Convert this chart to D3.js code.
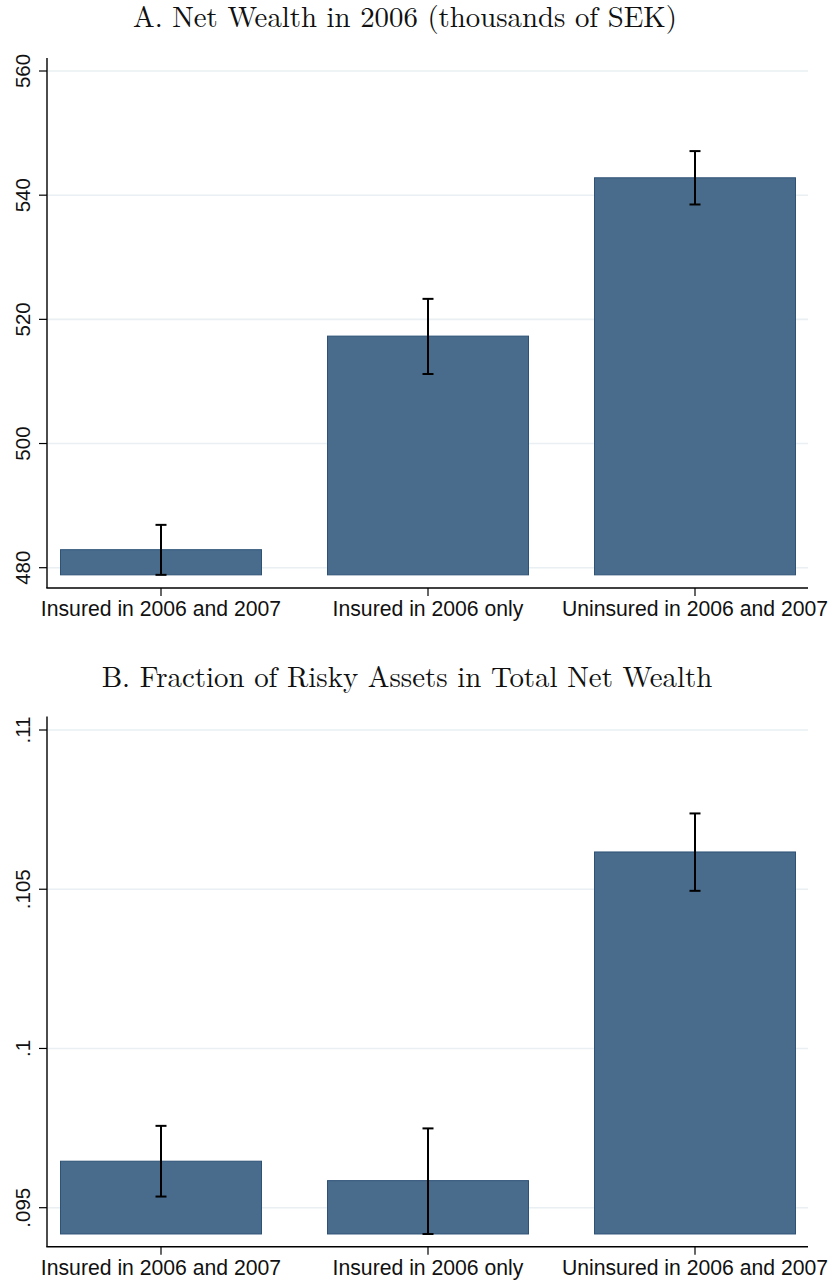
<!DOCTYPE html>
<html><head><meta charset="utf-8">
<script src="https://cdn.jsdelivr.net/npm/d3@7"></script>
<style>body{margin:0;background:#fff}svg{display:block}</style>
</head><body>
<svg id="c" width="833" height="1281"></svg>
<script>
const categories = ["Insured in 2006 and 2007", "Insured in 2006 only", "Uninsured in 2006 and 2007"];
// Panel A: Net wealth (thousands SEK)
const wealthMean = [482.9, 517.3, 542.8];
const wealthLo = [478.85, 511.2, 538.5];
const wealthHi = [486.9, 523.3, 547.1];
const wealthTicks = [480, 500, 520, 540, 560];
const wealthTickLabels = ["480", "500", "520", "540", "560"];
// Panel B: fraction of risky assets
const riskyMean = [0.09646, 0.09585, 0.10617];
const riskyLo = [0.09535, 0.094175, 0.10495];
const riskyHi = [0.09757, 0.09749, 0.10738];
const riskyTicks = [0.095, 0.1, 0.105, 0.11];
const riskyTickLabels = [".095", ".1", ".105", ".11"];
const titles = ["A. Net Wealth in 2006 (thousands of SEK)", "B. Fraction of Risky Assets in Total Net Wealth"];

const svg = d3.select("#c");
const barFill = "#4a6c8c", barStroke = "#2d5276", gridCol = "#e9eff2";
const serif = "'Latin Modern Roman','CMU Serif','Liberation Serif','DejaVu Serif',serif";
const sans = "'Liberation Sans',Arial,sans-serif";

const x = d3.scalePoint().domain(categories).range([161, 695]);
const barW = 201;

function panel(opt) {
  const g = svg.append("g");
  const y = d3.scaleLinear().domain(opt.domain).range(opt.range);
  const base = d3.min(opt.lo);
  const left = 47, right = 808;
  // title, sized to match the reference width
  const t = g.append("text").attr("x", opt.titleX).attr("y", opt.titleY)
    .attr("text-anchor", "middle").attr("font-family", serif).attr("font-size", 25)
    .attr("fill", "#111").text(opt.title);
  const w = t.node().getComputedTextLength();
  t.attr("font-size", 25 * opt.titleW / w);
  // gridlines
  g.selectAll(".grid").data(opt.ticks).join("line")
    .attr("x1", left + 1).attr("x2", right)
    .attr("y1", d => y(d)).attr("y2", d => y(d))
    .attr("stroke", gridCol).attr("stroke-width", 1.6);
  // bars
  g.selectAll(".bar").data(categories).join("rect")
    .attr("x", d => x(d) - barW / 2).attr("width", barW)
    .attr("y", (d, i) => y(opt.mean[i]))
    .attr("height", (d, i) => y(base) - y(opt.mean[i]))
    .attr("fill", barFill).attr("stroke", barStroke).attr("stroke-width", 1);
  // error bars
  const eb = g.selectAll(".eb").data(categories).join("g");
  eb.append("line").attr("x1", d => x(d)).attr("x2", d => x(d))
    .attr("y1", (d, i) => y(opt.lo[i])).attr("y2", (d, i) => y(opt.hi[i]))
    .attr("stroke", "#000").attr("stroke-width", 2);
  eb.append("line").attr("x1", d => x(d) - 5.5).attr("x2", d => x(d) + 5.5)
    .attr("y1", (d, i) => y(opt.lo[i])).attr("y2", (d, i) => y(opt.lo[i]))
    .attr("stroke", "#000").attr("stroke-width", 2);
  eb.append("line").attr("x1", d => x(d) - 5.5).attr("x2", d => x(d) + 5.5)
    .attr("y1", (d, i) => y(opt.hi[i])).attr("y2", (d, i) => y(opt.hi[i]))
    .attr("stroke", "#000").attr("stroke-width", 2);
  // y axis
  g.append("line").attr("x1", left).attr("x2", left)
    .attr("y1", y(opt.axisTop)).attr("y2", opt.xAxisY)
    .attr("stroke", "#000").attr("stroke-width", 1.4);
  g.selectAll(".yt").data(opt.ticks).join("line")
    .attr("x1", left - 8).attr("x2", left).attr("y1", d => y(d)).attr("y2", d => y(d))
    .attr("stroke", "#000").attr("stroke-width", 1.2);
  g.selectAll(".yl").data(opt.ticks).join("text")
    .attr("transform", d => `translate(29.5,${y(d)}) rotate(-90)`)
    .attr("text-anchor", "middle").attr("font-family", sans).attr("font-size", 20.5)
    .attr("fill", "#111").text((d, i) => opt.tickLabels[i]);
  // x axis
  g.append("line").attr("x1", left - 0.7).attr("x2", right)
    .attr("y1", opt.xAxisY).attr("y2", opt.xAxisY).attr("stroke", "#000").attr("stroke-width", 1.4);
  g.selectAll(".xt").data(categories).join("line")
    .attr("x1", d => x(d)).attr("x2", d => x(d))
    .attr("y1", opt.xAxisY).attr("y2", opt.xAxisY + 8).attr("stroke", "#000").attr("stroke-width", 1.2);
  g.selectAll(".xl").data(categories).join("text")
    .attr("x", d => x(d)).attr("y", opt.xAxisY + 28)
    .attr("text-anchor", "middle").attr("font-family", sans).attr("font-size", 21.2)
    .attr("fill", "#111").text(d => d);
}

panel({
  title: titles[0], titleX: 405, titleY: 27, titleW: 544,
  domain: [480, 560], range: [567.7, 71], axisTop: 562.1, xAxisY: 588,
  mean: wealthMean, lo: wealthLo, hi: wealthHi, ticks: wealthTicks, tickLabels: wealthTickLabels
});
panel({
  title: titles[1], titleX: 407, titleY: 687, titleW: 611,
  domain: [0.095, 0.11], range: [1207.7, 730], axisTop: 0.11042, xAxisY: 1246.7,
  mean: riskyMean, lo: riskyLo, hi: riskyHi, ticks: riskyTicks, tickLabels: riskyTickLabels
});
</script>
</body></html>
